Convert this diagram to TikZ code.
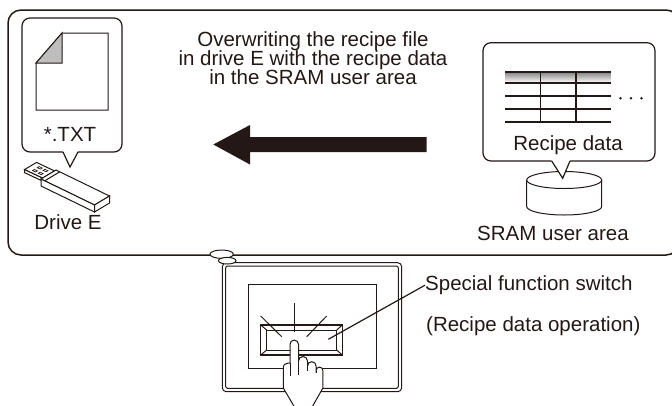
\documentclass[tikz,border=0pt]{standalone}
\usepackage{fontspec}
\setmainfont{Liberation Sans}
\usetikzlibrary{calc}
\definecolor{ink}{HTML}{231815}
\definecolor{shade}{HTML}{BEBEBE}

\begin{document}
\begin{tikzpicture}[x=1pt,y=-1pt,line join=miter,
  label/.style={font=\fontsize{20.5}{20.5}\selectfont,text=ink,inner sep=0pt,
    text height=14.5pt,text depth=3.5pt},
  ln/.style={draw=ink,line width=1.2pt},
  thin ln/.style={draw=ink,line width=1pt},
  bubble/.style={draw=ink,line width=1.2pt,fill=white}]
\useasboundingbox (0,0) rectangle (672,405);
\begin{scope}
\clip (0,0) rectangle (672,405);

% ---------- outer frame ----------
\draw[ln,line width=1.5pt,rounded corners=13] (8,10) rectangle (679,255);

% ---------- USB stick (drive E) ----------
\coordinate (uA) at (41,179);
\coordinate (uW) at (15,-9);   % width direction
\coordinate (uL) at (53.5,26); % length direction
\coordinate (uT) at (0,7);     % thickness
\coordinate (uB) at ($(uA)+(uW)$);
\coordinate (uC) at ($(uB)+(uL)$);
\coordinate (uD) at ($(uA)+(uL)$);
% plug
\coordinate (pA) at ($(uA)+0.1*(uW)$);
\coordinate (pB) at ($(uA)+0.9*(uW)$);
\coordinate (pAf) at ($(pA)-(18,8.5)$);
\coordinate (pBf) at ($(pB)-(18,8.5)$);
\draw[thin ln,fill=white] (pA) -- (pAf) -- (pBf) -- (pB) -- cycle;
\draw[thin ln,fill=white] (pAf) -- ($(pAf)+(0,3)$) -- ($(pA)+(0,3)$) -- (pA) -- cycle;
% plug holes
\foreach \s/\t in {0.30/0.62,0.62/0.62}{
  \draw[thin ln,line width=0.7pt]
    ($(pAf)!\s!(pA)+\t*(12,-7.2)$) -- ++(3,1.4) -- ++(1.8,-1.1) -- ++(-3,-1.4) -- cycle;
  \draw[thin ln,line width=0.7pt]
    ($(pAf)!\s!(pA)+0.22*(12,-7.2)$) -- ++(3,1.4) -- ++(1.8,-1.1) -- ++(-3,-1.4) -- cycle;
}
% body
\draw[thin ln,fill=white] (uA) -- (uB) -- (uC) -- (uD) -- cycle;
\draw[thin ln,fill=white] (uA) -- (uD) -- ($(uD)+(uT)$) -- ($(uA)+(uT)$) -- cycle;
\draw[thin ln,fill=white] (uD) -- (uC) -- ($(uC)+(uT)$) -- ($(uD)+(uT)$) -- cycle;
\draw[thin ln] ($(uA)+0.07*(uL)$) -- ($(uB)+0.07*(uL)$);

% ---------- file bubble ----------
\coordinate (fbTip) at (70,167);
\draw[bubble,rounded corners=8] (63,152) -| (22,18) -| (122,152) -- (78,152);
\draw[bubble] (63,152) -- (fbTip) -- (78,152);
% document icon
\draw[thin ln,fill=white] (36,63) -- (62,33) -- (108,33) -- (108,110) -- (36,110) -- cycle;
\draw[thin ln,fill=shade] (36,63) -- (62,33) -- (62,63) -- cycle;
\node[label,anchor=base] (txt) at (70,141.5) {*.TXT};
\node[label,anchor=base] (drive) at (68,229) {Drive E};

% ---------- caption and transfer arrow ----------
\node[label,anchor=base] (cap1) at (313,46) {Overwriting the recipe file};
\node[label,anchor=base] (cap2) at (313,65) {in drive E with the recipe data};
\node[label,anchor=base] (cap3) at (313,84) {in the SRAM user area};
\fill[ink] (426.7,137) -- (250,137) -- (250,125) -- (213.3,144.5) -- (250,164.5)
  -- (250,152) -- (426.7,152) -- cycle;

% ---------- SRAM cylinder ----------
\draw[thin ln,fill=white] (526.7,180) -- (526.7,206.5) arc (180:0:37.5 and 8.5) -- (601.7,180);
\draw[thin ln,fill=white] (564.2,180) ellipse (37.5 and 8.5);
\node[label,anchor=base] (sram) at (553,240) {SRAM user area};

% ---------- recipe data bubble ----------
\coordinate (rbTip) at (562.7,178.3);
\fill[white] (551.7,161) -- (rbTip) -- (570,161) -- cycle;
\draw[bubble,rounded corners=8] (551.7,161) -| (483,42.7) -| (655,161) -- (570,161);
\draw[ln] (551.7,161) -- (rbTip) -- (570,161);
% table
\fill[shade] (505,71.7) rectangle (610.7,82.7);
\foreach \y in {71.7,82.7,96,109.3,121.7}
  \draw[ink,line width=1.7pt] (505,\y) -- (610.7,\y);
\foreach \x in {540.7,576}
  \draw[ink,line width=1.2pt] (\x,71.7) -- (\x,121.7);
\foreach \x in {620.5,631,641.5}
  \fill[ink] (\x,98.3) circle (1.4);
\node[label,anchor=base] (recipe) at (568,150) {Recipe data};

% ---------- touch panel ----------
\draw[thin ln,rounded corners=4] (222.3,262.7) rectangle (401.7,391.7);
\draw[thin ln,rounded corners=2] (225.7,266) rectangle (398.3,388.3);
\draw[thin ln,fill=white] (221.7,254.2) ellipse (11.7 and 4.2);
\draw[thin ln,fill=white] (227.2,260.7) ellipse (8.8 and 3.3);
% screen
\draw[thin ln] (248.3,284.3) rectangle (376.7,368.3);
% switch with bevel
\draw[ln] (260.7,325) rectangle (342.3,355);
\draw[thin ln] (266.7,330) rectangle (336.7,350);
\draw[thin ln] (260.7,325) -- (266.7,330) (342.3,325) -- (336.7,330)
  (260.7,355) -- (266.7,350) (342.3,355) -- (336.7,350);
\coordinate (sw) at (328.3,339.3);
% flash marks
\draw[thin ln] (294.3,303.3) -- (294.3,331.7);
\draw[thin ln] (260.7,316) -- (281.7,336.7);
\draw[thin ln] (326.7,316) -- (306.7,336.7);
% hand
\draw[thin ln,fill=white] (296.2,410) -- (283.3,388) -- (283.3,367)
  .. controls (283.3,364.5) and (286.5,363) .. (290,363) -- (290,344.3)
  arc (180:360:4.25) -- (298.5,361)
  arc (180:360:4.5) -- (307.5,366)
  arc (180:360:4.3) -- (316.1,370.5)
  arc (180:360:3.4) -- (322.9,388) -- (310.4,410) -- cycle;
\draw[thin ln] (298.5,361) -- (298.5,375);
\draw[thin ln] (307.5,366) -- (307.5,371);
\draw[thin ln] (316.1,370.5) -- (316.1,373);
\draw[thin ln] (290,363) -- (290,376);
% leader and labels
\node[label,anchor=base west] (sfs) at (425,290.7) {Special function switch};
\node[label,anchor=base west] (rdo) at (426,331.7) {(Recipe data operation)};
\draw[ln] (sw) -- (sfs.west);
\end{scope}
\end{tikzpicture}
\end{document}
